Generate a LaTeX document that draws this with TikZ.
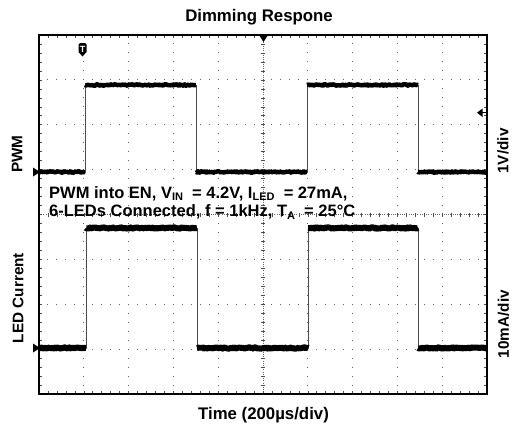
\documentclass[tikz,border=0pt]{standalone}
\usepackage{fontspec}
\setmainfont{Liberation Sans}
\usetikzlibrary{decorations.pathmorphing}

\newcommand\lowsub[1]{\raisebox{-0.3ex}{\fontsize{11}{11}\selectfont #1}}

\begin{document}
\begin{tikzpicture}[x=1pt,y=-1pt,
  heading/.style={font=\bfseries\fontsize{16.8}{20}\selectfont},
  axlabel/.style={font=\bfseries\fontsize{15.3}{18}\selectfont, rotate=90},
  note/.style={font=\bfseries\fontsize{16.5}{20}\selectfont, anchor=base west, inner sep=0pt},
  hdots/.style={black!60, line width=1pt, dash pattern=on 1pt off 7.96pt, dash phase=0.5pt},
  vdots/.style={black!60, line width=1pt, dash pattern=on 1pt off 7.975pt, dash phase=0.5pt},
  flank/.style={black!70, line width=0.8pt},
  trace/.style={line width=#1, line join=round, line cap=butt, decorate,
    decoration={random steps, segment length=1pt, amplitude=0.7pt}},
  trace/.default=4.5pt]

\pgfmathsetseed{7}
\useasboundingbox (0,0) rectangle (512,431);

% grid
\foreach \j in {1,2,3,5,6,7}
  \draw[hdots] (39,35+\j*44.875) -- (487,35+\j*44.875);
\foreach \i in {1,2,3,4,6,7,8,9}
  \draw[vdots] (39+\i*44.8,35) -- (39+\i*44.8,394);

% centre cross with ticks
\draw[black!60, line width=0.7pt, dash pattern=on 0.8pt off 1.4pt] (263,35) -- (263,394);
\draw[black!60, line width=0.7pt, dash pattern=on 0.8pt off 1.4pt] (39,214.5) -- (487,214.5);
\foreach \k in {1,...,39} {
  \draw[black!70, line width=0.6pt] (261,35+\k*8.975) -- (265,35+\k*8.975);
  \draw[black!70, line width=0.6pt] (39,35+\k*8.975) -- (42,35+\k*8.975);
  \draw[black!70, line width=0.6pt] (487,35+\k*8.975) -- (484,35+\k*8.975);
}
\foreach \k in {1,...,49} {
  \draw[black!70, line width=0.6pt] (39+\k*8.96,212.5) -- (39+\k*8.96,216.5);
  \draw[black!70, line width=0.6pt] (39+\k*8.96,35) -- (39+\k*8.96,38);
  \draw[black!70, line width=0.6pt] (39+\k*8.96,394) -- (39+\k*8.96,391);
}

% traces
\begin{scope}
\clip (39,35) rectangle (487,394);
\draw[flank] (39,172) -- (85,172) -- (85,85) -- (196,85) -- (196,172)
  -- (307,172) -- (307,85) -- (418,85) -- (418,172) -- (487,172);
\foreach \a/\b/\y in {37/85/172, 85/196/85, 196/307/172, 307/418/85, 418/489/172}
  \draw[trace] (\a,\y) -- (\b,\y);

\draw[flank] (39,348) -- (86,348) -- (86,228) -- (197,228) -- (197,348)
  -- (308,348) -- (308,228) -- (418,228) -- (418,348) -- (487,348);
\foreach \a/\b/\y in {37/86/348, 86/197/228, 197/308/348, 308/418/228, 418/489/348}
  \draw[trace=6pt] (\a,\y) -- (\b,\y);
\end{scope}

% frame
\draw[line width=2pt] (39,35) rectangle (487,394);

% markers
\fill (33,167.5) -- (40,172) -- (33,176.5) -- cycle;
\fill (33,343.5) -- (40,348) -- (33,352.5) -- cycle;
\fill (259,35) -- (268,35) -- (263.5,42) -- cycle;
\fill (477,112.7) -- (482.5,108.5) -- (482.5,117) -- cycle;
\draw[line width=1pt] (481,112.7) -- (487,112.7);
\fill (78.5,52) [rounded corners=1.5pt] -- (78.5,43) -- (86.5,43) [sharp corners]
  -- (86.5,52) -- (82.5,56.5) -- cycle;
\node[text=white, font=\bfseries\fontsize{9}{9}\selectfont, inner sep=0pt] (trig) at (82.5,49) {T};

% labels
\node[heading, anchor=base] (title) at (259,21.7) {Dimming Respone};
\node[heading, anchor=base] (time) at (263.5,419) {Time (200µs/div)};
\node[axlabel] (pwm) at (17,154) {PWM};
\node[axlabel] (led) at (18,298) {LED Current};
\node[axlabel] (vdiv) at (503,151) {1V/div};
\node[axlabel] (adiv) at (503.5,324) {10mA/div};

\node[note] (note1) at (49,198.3) {PWM into EN, V\lowsub{IN} \ = 4.2V, I\lowsub{LED} \ = 27mA,};
\node[note] (note2) at (49,216.7) {6-LEDs Connected, f = 1kHz, T\lowsub{A} \ = 25°C};

\end{tikzpicture}
\end{document}
